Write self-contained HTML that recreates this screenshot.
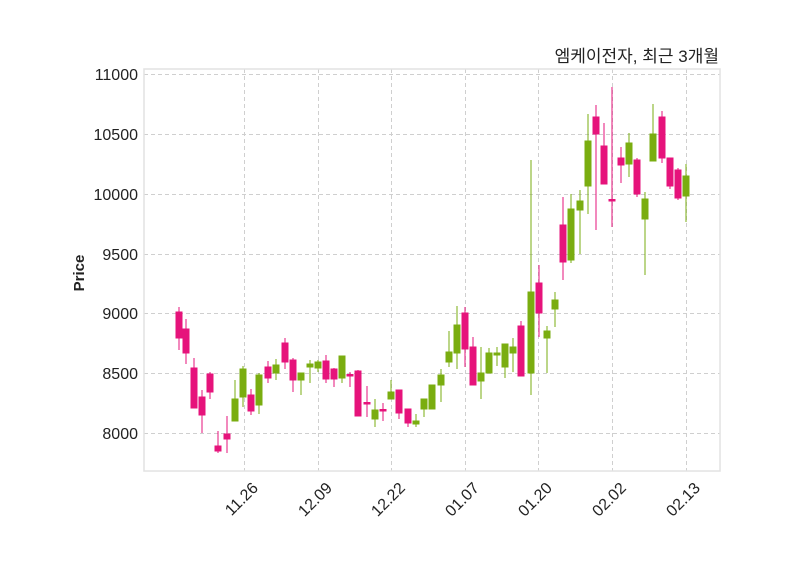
<!DOCTYPE html>
<html><head><meta charset="utf-8"><style>html,body{margin:0;padding:0;background:#fff}svg{display:block}</style></head>
<body>
<svg width="800" height="575" viewBox="0 0 800 575" xmlns="http://www.w3.org/2000/svg" font-family="Liberation Sans, sans-serif">
<rect width="800" height="575" fill="#fff"/>
<g stroke="#cfcfcf" stroke-width="1" stroke-dasharray="4,3">
<line x1="144" x2="720" y1="74.5" y2="74.5"/><line x1="144" x2="720" y1="134.5" y2="134.5"/><line x1="144" x2="720" y1="194.5" y2="194.5"/><line x1="144" x2="720" y1="254.5" y2="254.5"/><line x1="144" x2="720" y1="313.5" y2="313.5"/><line x1="144" x2="720" y1="373.5" y2="373.5"/><line x1="144" x2="720" y1="433.5" y2="433.5"/>
<line y1="69" y2="471" x1="244.5" x2="244.5"/><line y1="69" y2="471" x1="318.5" x2="318.5"/><line y1="69" y2="471" x1="391.5" x2="391.5"/><line y1="69" y2="471" x1="465.5" x2="465.5"/><line y1="69" y2="471" x1="538.5" x2="538.5"/><line y1="69" y2="471" x1="612.5" x2="612.5"/><line y1="69" y2="471" x1="686.5" x2="686.5"/>
</g>
<rect x="144" y="69" width="576" height="402" fill="none" stroke="#e2e2e2" stroke-width="1.5"/>
<g font-size="16" fill="#222" text-anchor="end">
<text x="138" y="80">11000</text><text x="138" y="140">10500</text><text x="138" y="200">10000</text><text x="138" y="260">9500</text><text x="138" y="319">9000</text><text x="138" y="379">8500</text><text x="138" y="439">8000</text>
</g>
<g font-size="16" fill="#222" text-anchor="end">
<text transform="translate(259,489) rotate(-45)">11.26</text>
<text transform="translate(333,489) rotate(-45)">12.09</text>
<text transform="translate(406,489) rotate(-45)">12.22</text>
<text transform="translate(480,489) rotate(-45)">01.07</text>
<text transform="translate(553,489) rotate(-45)">01.20</text>
<text transform="translate(627,489) rotate(-45)">02.02</text>
<text transform="translate(701,489) rotate(-45)">02.13</text>
</g>
<text transform="translate(84,273) rotate(-90)" font-size="15" font-weight="bold" fill="#222" text-anchor="middle">Price</text>
<text x="719" y="62" font-size="17" fill="#222" text-anchor="end" font-family="Liberation Sans, Noto Sans CJK KR, sans-serif">엠케이전자, 최근 3개월</text>
<g id="c" stroke-width="1">
<g stroke="#e6137b" fill="#e6137b">
<line x1="179" x2="179" y1="307" y2="350"/><rect x="176" y="312" width="6" height="26"/>
<line x1="186" x2="186" y1="319" y2="364"/><rect x="183" y="329" width="6" height="24"/>
<line x1="194" x2="194" y1="358" y2="408"/><rect x="191" y="368" width="6" height="40"/>
<line x1="202" x2="202" y1="390" y2="433"/><rect x="199" y="397" width="6" height="18"/>
<line x1="210" x2="210" y1="372" y2="399"/><rect x="207" y="374" width="6" height="18"/>
<line x1="218" x2="218" y1="431" y2="453"/><rect x="215" y="446" width="6" height="5"/>
<line x1="227" x2="227" y1="416" y2="453"/><rect x="224" y="434" width="6" height="5"/>
<line x1="251" x2="251" y1="389" y2="415"/><rect x="248" y="395" width="6" height="16"/>
<line x1="268" x2="268" y1="361" y2="383"/><rect x="265" y="367" width="6" height="11"/>
<line x1="285" x2="285" y1="338" y2="369"/><rect x="282" y="343" width="6" height="19"/>
<line x1="293" x2="293" y1="358" y2="392"/><rect x="290" y="360" width="6" height="20"/>
<line x1="326" x2="326" y1="355" y2="383"/><rect x="323" y="361" width="6" height="18"/>
<line x1="334" x2="334" y1="368" y2="387"/><rect x="331" y="369" width="6" height="10"/>
<line x1="350" x2="350" y1="372" y2="387"/><rect x="347" y="374.5" width="6" height="1.5"/>
<line x1="358" x2="358" y1="370" y2="416"/><rect x="355" y="371" width="6" height="45"/>
<line x1="367" x2="367" y1="386" y2="417"/><rect x="364" y="402.5" width="6" height="1.5"/>
<line x1="383" x2="383" y1="403" y2="421"/><rect x="380" y="409.5" width="6" height="1.5"/>
<line x1="399" x2="399" y1="390" y2="419"/><rect x="396" y="390" width="6" height="23"/>
<line x1="408" x2="408" y1="409" y2="427"/><rect x="405" y="409" width="6" height="14"/>
<line x1="465" x2="465" y1="307" y2="367"/><rect x="462" y="313" width="6" height="36"/>
<line x1="473" x2="473" y1="337" y2="385"/><rect x="470" y="347" width="6" height="38"/>
<line x1="521" x2="521" y1="321" y2="376"/><rect x="518" y="326" width="6" height="50"/>
<line x1="539" x2="539" y1="265" y2="337"/><rect x="536" y="283" width="6" height="30"/>
<line x1="563" x2="563" y1="197" y2="280"/><rect x="560" y="225" width="6" height="37"/>
<line x1="596" x2="596" y1="105" y2="230"/><rect x="593" y="117" width="6" height="17"/>
<line x1="604" x2="604" y1="123" y2="184"/><rect x="601" y="146" width="6" height="38"/>
<line x1="612" x2="612" y1="87" y2="227"/><rect x="609" y="199.5" width="6" height="1.5"/>
<line x1="621" x2="621" y1="147" y2="183"/><rect x="618" y="158" width="6" height="7"/>
<line x1="637" x2="637" y1="158" y2="197"/><rect x="634" y="160" width="6" height="34"/>
<line x1="662" x2="662" y1="111" y2="163"/><rect x="659" y="117" width="6" height="41"/>
<line x1="670" x2="670" y1="158" y2="189"/><rect x="667" y="158" width="6" height="28"/>
<line x1="678" x2="678" y1="168" y2="200"/><rect x="675" y="170" width="6" height="28"/>
</g>
<g stroke="#7aad10" fill="#7aad10">
<line x1="235" x2="235" y1="380" y2="421"/><rect x="232" y="399" width="6" height="22"/>
<line x1="243" x2="243" y1="366" y2="407"/><rect x="240" y="369" width="6" height="28"/>
<line x1="259" x2="259" y1="373" y2="414"/><rect x="256" y="375" width="6" height="30"/>
<line x1="276" x2="276" y1="359" y2="380"/><rect x="273" y="365" width="6" height="8"/>
<line x1="301" x2="301" y1="373" y2="395"/><rect x="298" y="373" width="6" height="7"/>
<line x1="310" x2="310" y1="360" y2="383"/><rect x="307" y="364" width="6" height="3"/>
<line x1="318" x2="318" y1="360" y2="372"/><rect x="315" y="362" width="6" height="6"/>
<line x1="342" x2="342" y1="356" y2="383"/><rect x="339" y="356" width="6" height="22"/>
<line x1="375" x2="375" y1="399" y2="427"/><rect x="372" y="410" width="6" height="9"/>
<line x1="391" x2="391" y1="380" y2="399"/><rect x="388" y="392" width="6" height="7"/>
<line x1="416" x2="416" y1="414" y2="427"/><rect x="413" y="421" width="6" height="3"/>
<line x1="424" x2="424" y1="399" y2="417"/><rect x="421" y="399" width="6" height="10"/>
<line x1="432" x2="432" y1="385" y2="409"/><rect x="429" y="385" width="6" height="24"/>
<line x1="441" x2="441" y1="369" y2="402"/><rect x="438" y="375" width="6" height="10"/>
<line x1="449" x2="449" y1="331" y2="367"/><rect x="446" y="352" width="6" height="10"/>
<line x1="457" x2="457" y1="306" y2="369"/><rect x="454" y="325" width="6" height="28"/>
<line x1="481" x2="481" y1="347" y2="399"/><rect x="478" y="373" width="6" height="8"/>
<line x1="489" x2="489" y1="348" y2="373"/><rect x="486" y="353" width="6" height="20"/>
<line x1="497" x2="497" y1="347" y2="366"/><rect x="494" y="353" width="6" height="2"/>
<line x1="505" x2="505" y1="344" y2="378"/><rect x="502" y="344" width="6" height="23"/>
<line x1="513" x2="513" y1="338" y2="372"/><rect x="510" y="347" width="6" height="6"/>
<line x1="531" x2="531" y1="160" y2="395"/><rect x="528" y="292" width="6" height="81"/>
<line x1="547" x2="547" y1="326" y2="373"/><rect x="544" y="331" width="6" height="7"/>
<line x1="555" x2="555" y1="292" y2="327"/><rect x="552" y="300" width="6" height="9"/>
<line x1="571" x2="571" y1="194" y2="263"/><rect x="568" y="209" width="6" height="51"/>
<line x1="580" x2="580" y1="190" y2="254"/><rect x="577" y="201" width="6" height="9"/>
<line x1="588" x2="588" y1="114" y2="214"/><rect x="585" y="141" width="6" height="45"/>
<line x1="629" x2="629" y1="133" y2="177"/><rect x="626" y="143" width="6" height="21"/>
<line x1="645" x2="645" y1="192" y2="275"/><rect x="642" y="199" width="6" height="20"/>
<line x1="653" x2="653" y1="104" y2="161"/><rect x="650" y="134" width="6" height="27"/>
<line x1="686" x2="686" y1="164" y2="222"/><rect x="683" y="176" width="6" height="20"/>
</g>
</g>
</svg>
</body></html>
